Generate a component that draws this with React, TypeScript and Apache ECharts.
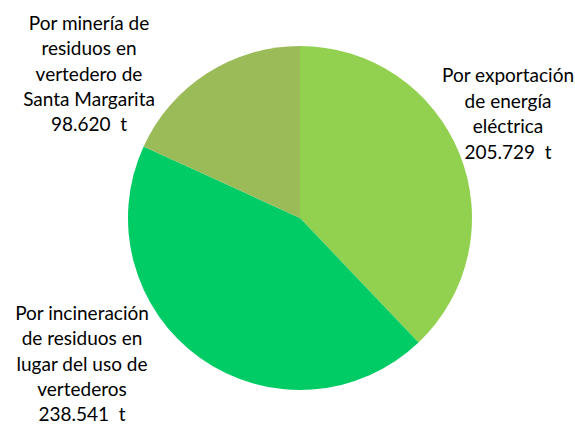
import React, { useEffect, useRef } from "react";
import * as echarts from "echarts";

const categories = [
  "Por exportación\nde energía\neléctrica",
  "Por incineración\nde residuos en\nlugar del uso de\nvertederos",
  "Por minería de\nresiduos en\nvertedero de\nSanta Margarita",
];
const values = [205729, 238541, 98620];
const valueLabels = ["205.729  t", "238.541  t", "98.620  t"];
const colors = ["#92D050", "#00CC66", "#9BBB59"];
const labelPos = [
  [508, 113],
  [82, 363],
  [89, 73],
];

export default function App() {
  const ref = useRef<HTMLDivElement>(null);
  useEffect(() => {
    const chart = echarts.init(ref.current!, undefined, { renderer: "svg" });
    chart.setOption({
      animation: false,
      backgroundColor: "#ffffff",
      series: [
        {
          type: "pie",
          center: [300, 218],
          radius: 172,
          startAngle: 90,
          clockwise: true,
          data: categories.map((name, i) => ({
            name,
            value: values[i],
            itemStyle: { color: colors[i] },
          })),
          label: {
            show: true,
            position: "outside",
            formatter: (p: any) => `${p.name}\n${valueLabels[p.dataIndex]}`,
            fontFamily: "Lato",
            fontSize: 19,
            lineHeight: 25.4,
            color: "#000000",
            align: "center",
            overflow: "none",
            width: 200,
          },
          labelLine: { show: false },
          labelLayout: (p: any) => ({
            x: labelPos[p.dataIndex][0],
            y: labelPos[p.dataIndex][1],
            align: "center",
            verticalAlign: "middle",
          }),
        },
      ],
    });
    return () => chart.dispose();
  }, []);
  return (
    <div
      ref={ref}
      style={{ position: "fixed", left: 0, top: 0, width: 575, height: 425 }}
    />
  );
}
